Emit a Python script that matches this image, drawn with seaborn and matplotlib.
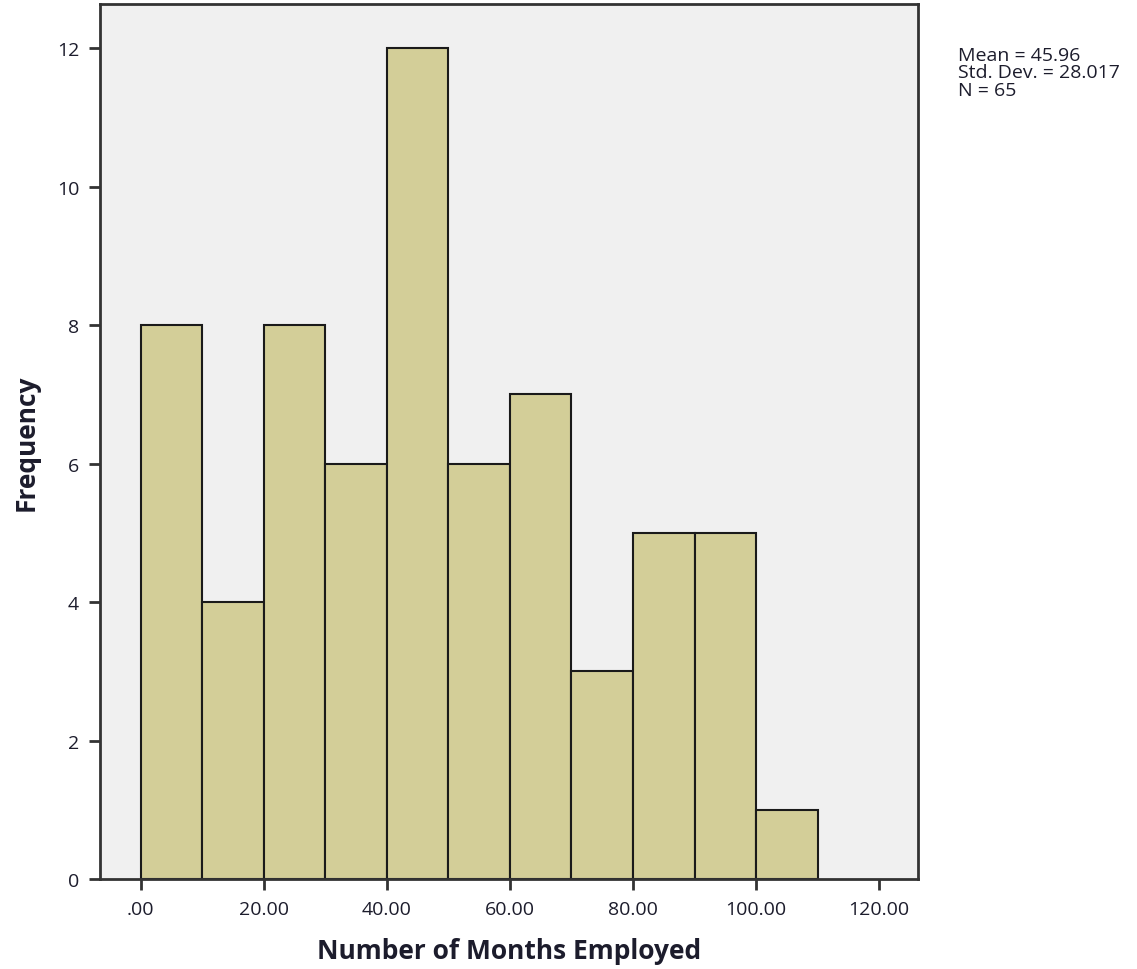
import numpy as np
import pandas as pd
import matplotlib
matplotlib.use("Agg")
import matplotlib.pyplot as plt
import seaborn as sns

# Histogram bins (months employed) and frequencies
bin_edges = [0, 10, 20, 30, 40, 50, 60, 70, 80, 90, 100, 110]
frequencies = [8, 4, 8, 6, 12, 6, 7, 3, 5, 5, 1]
x_ticks = [0, 20, 40, 60, 80, 100, 120]
x_tick_labels = [".00", "20.00", "40.00", "60.00", "80.00", "100.00", "120.00"]
y_ticks = [0, 2, 4, 6, 8, 10, 12]
stats_text = "Mean = 45.96\nStd. Dev. = 28.017\nN = 65"

sns.set_style("white")
plt.rcParams['font.family'] = ['Open Sans', 'DejaVu Sans']

bin_mid = [(a + b) / 2 for a, b in zip(bin_edges[:-1], bin_edges[1:])]
df = pd.DataFrame({"months": bin_mid, "count": frequencies})

fig = plt.figure(figsize=(11.37, 9.70), dpi=100)
ax = fig.add_axes([100 / 1137, 90 / 970, 818 / 1137, 875 / 970])
ax.set_facecolor("#f0f0f0")

sns.histplot(data=df, x="months", weights="count", bins=bin_edges,
             color="#d3ce98", alpha=1.0, edgecolor="#1a1a1a", linewidth=1.5, ax=ax)

ax.set_xlim(-6.6, 126.3)
ax.set_ylim(0, 12.64)
ax.set_xticks(x_ticks)
ax.set_xticklabels(x_tick_labels)
ax.set_yticks(y_ticks)

text_color = "#1c1c2c"
ax.tick_params(axis="both", direction="out", length=8, width=2, color="#333333",
               labelsize=14, labelcolor=text_color, pad=7, bottom=True, left=True)
for spine in ax.spines.values():
    spine.set_color("#333333")
    spine.set_linewidth(2)

ax.set_xlabel("Number of Months Employed", fontsize=19, fontweight="bold",
              color=text_color, labelpad=14)
ax.set_ylabel("Frequency", fontsize=19, fontweight="bold", color=text_color, labelpad=12)

fig.text(958 / 1137, 1 - 47 / 970, stats_text, fontsize=14, color=text_color,
         va="top", ha="left", linespacing=0.95)

fig.savefig("out.png", dpi=100)
